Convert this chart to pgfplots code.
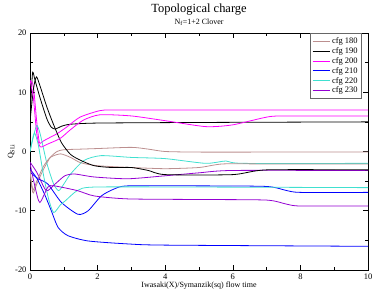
\documentclass[border=0pt]{standalone}
\usepackage{fontspec}
\setmainfont{Liberation Serif}
\usepackage{pgfplots}
\pgfplotsset{compat=1.18}
\definecolor{cbrown}{RGB}{188,143,143}
\definecolor{cmag}{RGB}{255,0,255}
\definecolor{cblue}{RGB}{0,0,255}
\definecolor{ccyan}{RGB}{64,224,208}
\definecolor{cpurp}{RGB}{148,0,211}
\begin{document}
\begin{tikzpicture}
\begin{axis}[
  scale only axis, width=338bp, height=237bp,
  xmin=0, xmax=10, ymin=-20, ymax=20,
  xtick={0,2,4,6,8,10}, ytick={-20,-10,0,10,20},
  minor x tick num=1, minor y tick num=1,
  tick align=inside, xtick pos=both, ytick pos=both,
  major tick length=5bp, minor tick length=3bp,
  tick style={black, line width=0.6pt},
  axis line style={line width=0.9pt},
  /pgf/number format/assume math mode=true,
  ticklabel style={font=\fontsize{8.5}{10}\selectfont},
  xlabel={Iwasaki(X)/Symanzik(sq) flow time},
  ylabel={Q$_{\mathrm{SLi}}$},
  label style={font=\fontsize{8}{9}\selectfont},
  xlabel style={yshift=4bp},
  ylabel style={yshift=-6bp},
  legend style={at={(rel axis cs:0.982,1)}, anchor=north east, draw=black!60, line width=0.6pt,
    font=\fontsize{8.5}{10}\selectfont, row sep=-1.5pt, inner sep=2pt},
  legend cell align=left,
  every axis plot/.append style={line width=0.8pt, smooth, tension=0.4, no marks},
  clip=true,
]
% primary curves (with legend)
\addplot[cbrown] coordinates {(0,-3) (0.05,-6) (0.1,-7) (0.2,-5.5) (0.4,-3) (0.6,-1) (0.8,0) (1.0,0.3) (1.5,0.4) (2,0.5) (3,0.7) (3.5,0.4) (4,0) (5,-0.1) (7,-0.1) (10,-0.1)};
\addlegendentry{cfg 180}
\addplot[black] coordinates {(0,5) (0.04,10) (0.08,13.4) (0.15,12) (0.3,9) (0.5,5.5) (0.63,4.1) (0.75,3.8) (0.95,4.3) (1.2,4.6) (2,4.8) (5,4.9) (10,5.0)};
\addlegendentry{cfg 190}
\addplot[cmag] coordinates {(0,12) (0.1,11) (0.2,5) (0.28,1.5) (0.4,1.8) (0.6,2.4) (0.8,3) (1.08,4.1) (1.48,5.8) (2.07,6.9) (2.5,7) (5,7) (10,7)};
\addlegendentry{cfg 200}
\addplot[cblue] coordinates {(0,-3.5) (0.24,-4.6) (0.53,-5.5) (0.93,-8.6) (1.42,-10.6) (1.72,-10.0) (2.11,-7.5) (2.5,-6.3) (2.9,-5.8) (5,-5.8) (7,-5.9) (7.6,-6.6) (8,-6.9) (10,-6.9)};
\addlegendentry{cfg 210}
\addplot[ccyan] coordinates {(0,0) (0.1,2.5) (0.2,4.4) (0.3,3) (0.5,-2) (0.7,-5.5) (0.85,-6.6) (1.0,-5.5) (1.2,-3.8) (1.6,-1.5) (2.1,-0.7) (3,-1.0) (4,-1.2) (5.2,-2.0) (5.8,-1.6) (6.3,-2.0) (10,-2.0)};
\addlegendentry{cfg 220}
\addplot[cpurp] coordinates {(0,-1.8) (0.2,-3.5) (0.48,-6.6) (0.74,-5.5) (1.03,-4.1) (1.32,-3.8) (1.9,-4.3) (2.9,-4.6) (4,-4.1) (5,-3.6) (6,-3.2) (10,-3.2)};
\addlegendentry{cfg 230}
% second curves of each cfg
\addplot[cbrown] coordinates {(0,-3) (0.05,-5.5) (0.1,-6.5) (0.2,-5) (0.4,-2.5) (0.6,-1) (0.9,-0.4) (1.2,-1.0) (1.5,-1.9) (2,-2.4) (3,-2.7) (4,-2.9) (5,-2.7) (5.7,-2.1) (7,-2.1) (10,-2.1)};
\addplot[black] coordinates {(0,5) (0.1,10.5) (0.19,12.6) (0.3,11) (0.5,7.5) (0.7,4.5) (0.93,1.5) (1.2,-0.5) (1.5,-1.5) (1.9,-2.4) (2.4,-2.7) (3,-2.7) (3.5,-3.2) (4,-3.9) (6,-3.9) (7,-3.1) (10,-3.1)};
\addplot[cmag] coordinates {(0,12) (0.1,9) (0.2,3) (0.3,0.8) (0.5,1.2) (0.89,2.2) (1.18,3.6) (1.58,5.3) (2.07,6.2) (3,6.0) (4,5.2) (5.2,4.2) (6,4.5) (7.1,5.9) (8,6.0) (10,6.0)};
\addplot[cblue] coordinates {(0,-3) (0.2,-4.5) (0.43,-7.2) (0.63,-10) (0.83,-12.8) (1.12,-14.2) (1.72,-15.1) (2.9,-15.6) (4,-15.8) (10,-16)};
\addplot[ccyan] coordinates {(0,0) (0.1,2.7) (0.15,3) (0.25,1) (0.4,-4) (0.55,-8) (0.7,-10.3) (0.9,-9) (1.05,-8.3) (1.4,-6.6) (1.9,-6.0) (5,-6.0) (10,-6.1)};
\addplot[cpurp] coordinates {(0,-2) (0.15,-6) (0.29,-8.6) (0.53,-6.0) (0.72,-5.8) (1.4,-6.6) (1.9,-7.5) (2.9,-8.0) (5,-8.1) (7,-8.2) (7.6,-8.9) (8,-9.2) (10,-9.2)};
\end{axis}
\node[font=\fontsize{12.5}{14}\selectfont] at ([yshift=23bp]current axis.north) {Topological charge};
\node[font=\fontsize{8}{9}\selectfont] at ([yshift=11bp]current axis.north) {N$_\mathrm{f}$=1+2 Clover};
\pgfresetboundingbox
\useasboundingbox ([shift={(-30bp,-23bp)}]current axis.south west) rectangle ([shift={(6bp,33bp)}]current axis.north east);
\end{tikzpicture}
\end{document}
